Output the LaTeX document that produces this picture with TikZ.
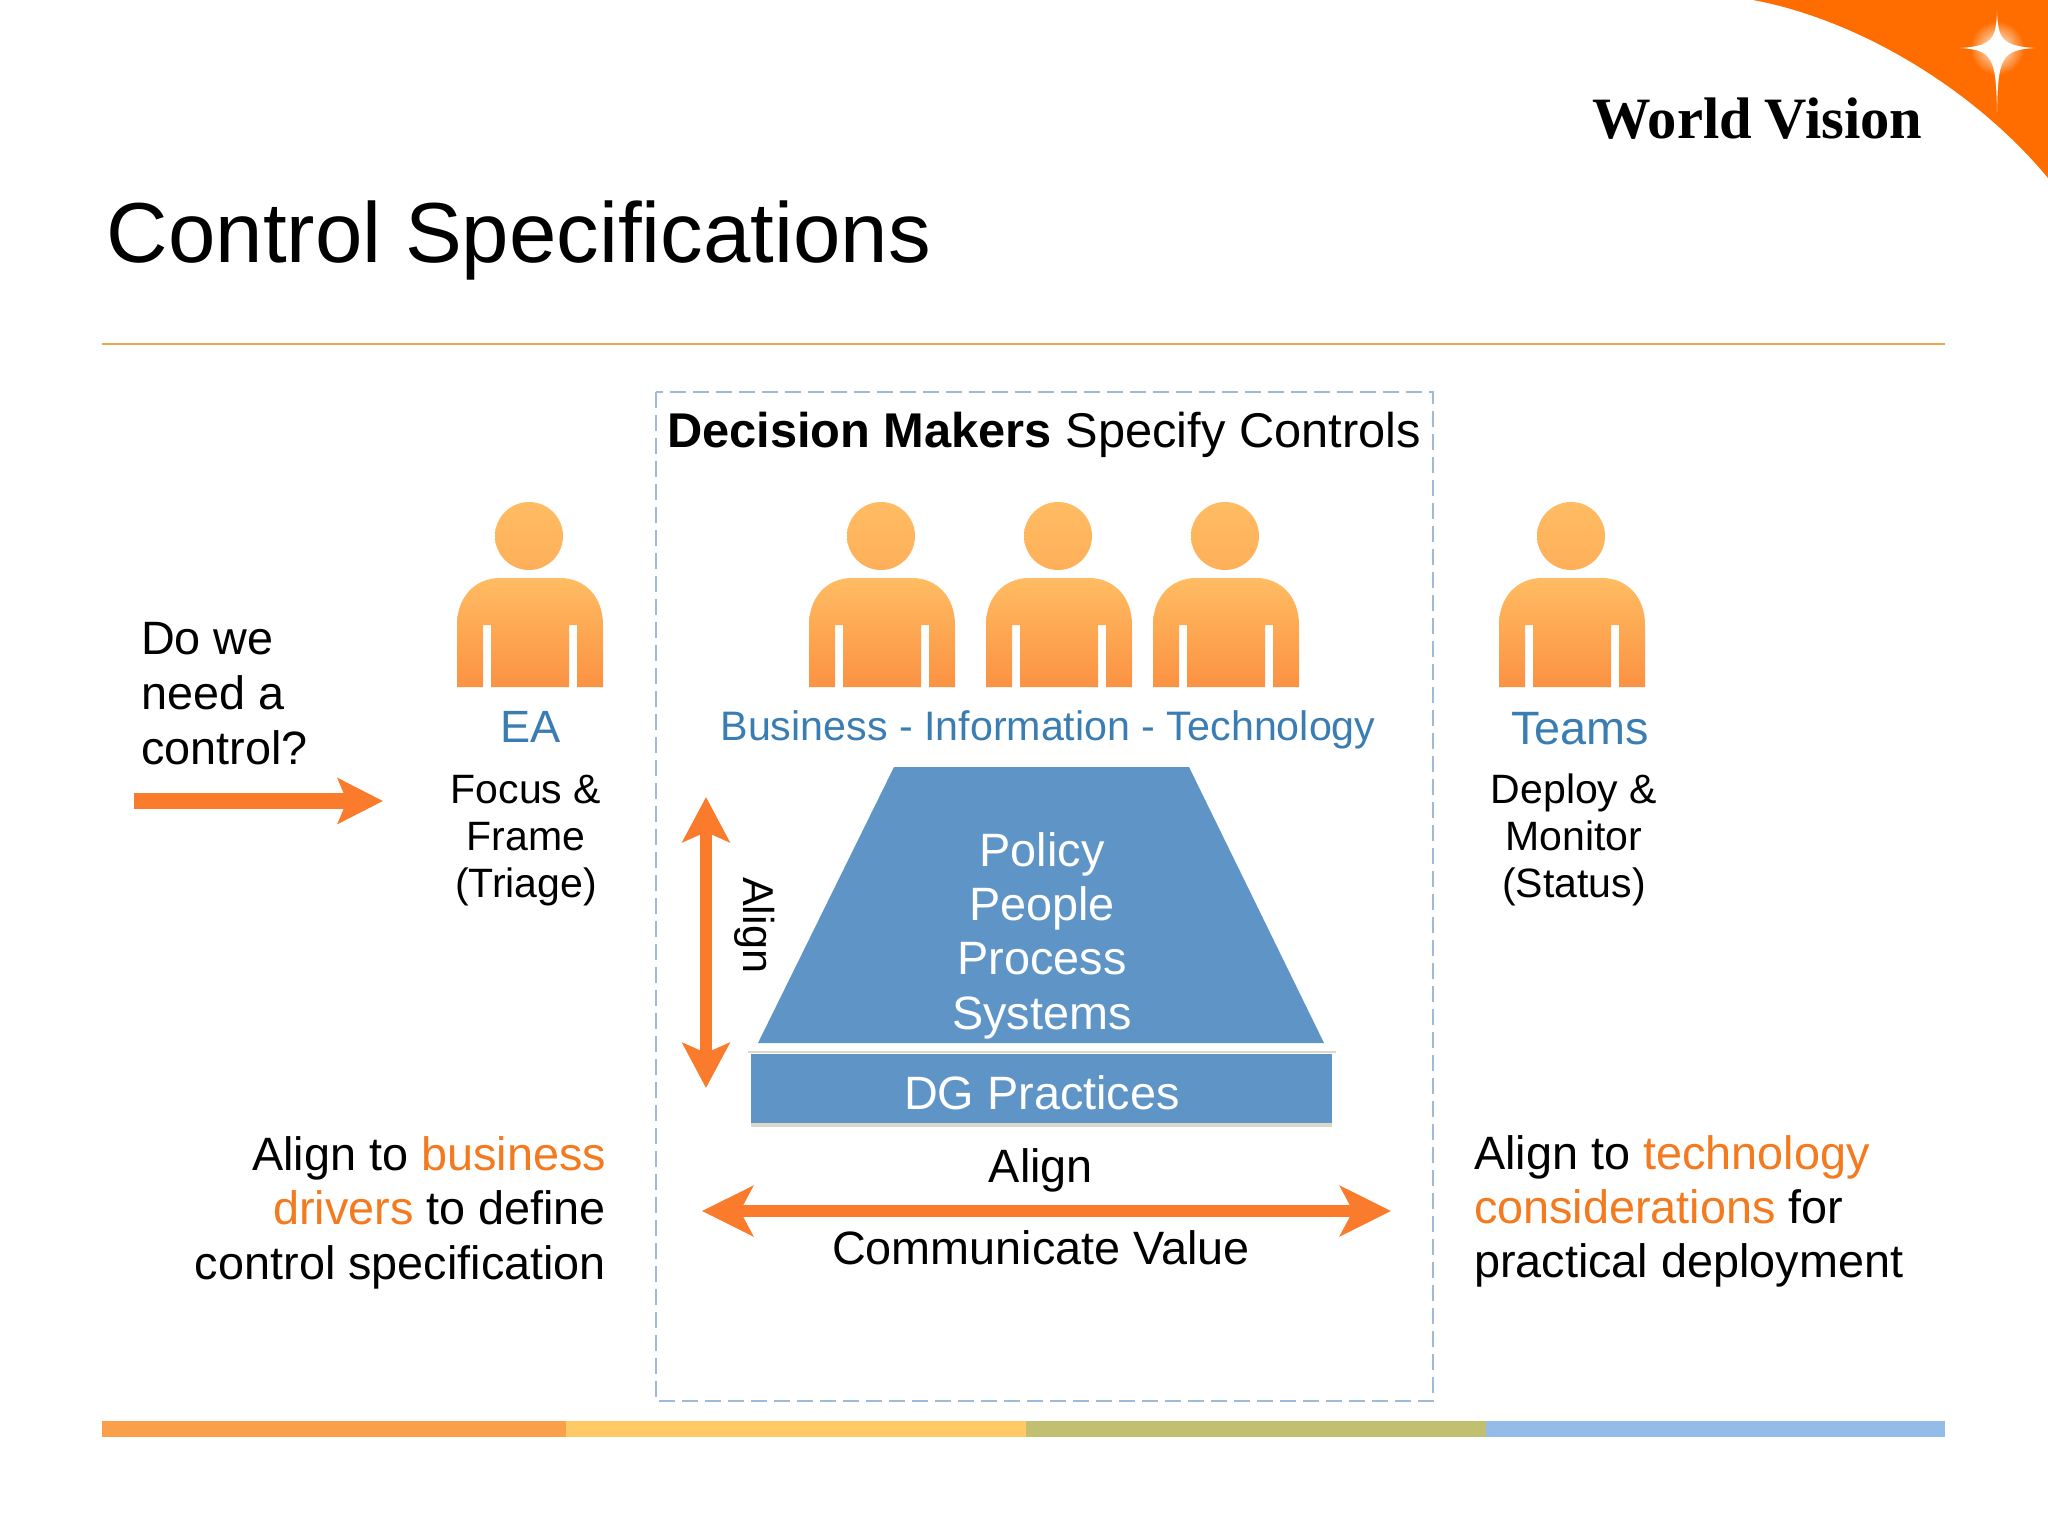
\documentclass[tikz,border=0pt]{standalone}
\usepackage{fontspec}
\usetikzlibrary{arrows.meta}
\setmainfont{Liberation Sans}
\newfontfamily\logofont{Liberation Serif}
\definecolor{swoosh}{HTML}{FF6D00}
\definecolor{rulecol}{HTML}{EDA64B}
\definecolor{arrowcol}{HTML}{FA7B2B}
\definecolor{labelblue}{HTML}{3A7DB3}
\definecolor{boxblue}{HTML}{5F95C6}
\definecolor{dashcol}{HTML}{9DBAD8}
\definecolor{hilite}{HTML}{F47A1F}
\definecolor{persontop}{HTML}{FFBC62}
\definecolor{personbot}{HTML}{FB9243}
\definecolor{edgetan}{HTML}{DDD6CA}
\definecolor{barA}{HTML}{FBA04A}
\definecolor{barB}{HTML}{FFC965}
\definecolor{barC}{HTML}{C0C070}
\definecolor{barD}{HTML}{94BCE8}
\newcommand{\fsz}[2]{\fontsize{#1}{#2}\selectfont}
\newcommand{\blockL}[2]{\vtop{\baselineskip=#1\lineskiplimit=-20pt\halign{##\hfil\cr#2\crcr}}}
\newcommand{\blockR}[2]{\vtop{\baselineskip=#1\lineskiplimit=-20pt\halign{\hfil##\cr#2\crcr}}}
\newcommand{\blockC}[2]{\vtop{\baselineskip=#1\lineskiplimit=-20pt\halign{\hfil##\hfil\cr#2\crcr}}}
\newcommand{\hi}[1]{\textcolor{hilite}{#1}}
\tikzset{
  x=0.5pt,y=-0.5pt,
  txt/.style={inner sep=0pt,outer sep=0pt,font=\fsz{23.4}{27}},
  small/.style={inner sep=0pt,outer sep=0pt,font=\fsz{20.5}{24}},
  whitetxt/.style={txt,text=white},
  bluetxt/.style={inner sep=0pt,outer sep=0pt,text=labelblue},
  flow/.style={draw=arrowcol,fill=arrowcol,line width=6pt},
  vflow/.style={flow,{Stealth[length=22.5pt,width=23.5pt,inset=5pt]}-{Stealth[length=22.5pt,width=23.5pt,inset=5pt]}},
  hflow/.style={flow,{Stealth[length=25.5pt,width=25pt,inset=6.5pt]}-{Stealth[length=25.5pt,width=25pt,inset=6.5pt]}},
  oneflow/.style={flow,line width=8pt,-{Stealth[length=22.5pt,width=22.5pt,inset=4.5pt]}},
  person/.pic={
    \shade[top color=persontop,bottom color=persontop!70!personbot] (0,536) circle[radius=34];
    \shade[top color=persontop,bottom color=personbot]
      (-72,687) -- (-72,625) .. controls (-72,597) and (-54,578) .. (-29,578)
      -- (31,578) .. controls (56,578) and (74,597) .. (74,625) -- (74,687)
      -- (48,687) -- (48,625) -- (40,625) -- (40,687) -- (-38,687) -- (-38,625)
      -- (-46,625) -- (-46,687) -- cycle;
  }
}
\begin{document}
\begin{tikzpicture}
\useasboundingbox (0,0) rectangle (2048,1536);
\fill[white] (0,0) rectangle (2048,1536);
% corner swoosh
\fill[swoosh] (1753,0) .. controls (1860,20) and (1975,90) .. (2048,178) -- (2048,0) -- cycle;
\shade[inner color=white,outer color=swoosh] (1997,48) circle[radius=27];
\fill[white] (1997,11) .. controls (1998,38) and (2001,46) .. (2035,48)
  .. controls (2001,50) and (1998,58) .. (1997,113)
  .. controls (1996,58) and (1993,50) .. (1960,48)
  .. controls (1993,46) and (1996,38) .. cycle;
\node[inner sep=0pt,anchor=base west,font=\fsz{29.3}{32}\logofont\bfseries] (logo) at (1592,139) {World\hspace{6.5pt}Vision};
% title, rule, bar
\node[inner sep=0pt,anchor=base west,font=\fsz{42.6}{48}] (title) at (106.5,262) {Control Specifications};
\draw[rulecol,line width=0.8pt] (102,344) -- (1945,344);
\fill[barA] (102,1421) rectangle (566,1437);
\fill[barB] (566,1421) rectangle (1026,1437);
\fill[barC] (1026,1421) rectangle (1486,1437);
\fill[barD] (1486,1421) rectangle (1945,1437);
% dashed frame
\draw[dashcol,line width=1pt,dash pattern=on 8pt off 3.5pt] (656,392) rectangle (1433,1401);
\node[txt,anchor=base west,font=\fsz{24.4}{28}] (head) at (667,447) {\textbf{Decision Makers} Specify Controls};
% persons
\pic at (529,0) {person};
\pic at (881,0) {person};
\pic at (1058,0) {person};
\pic at (1225,0) {person};
\pic at (1571,0) {person};
% labels
\node[bluetxt,anchor=base,font=\fsz{22.6}{26}] (ea) at (530.5,742) {EA};
\node[bluetxt,anchor=base,font=\fsz{20.6}{24}] (bit) at (1048,740) {Business - Information - Technology};
\node[bluetxt,anchor=base,font=\fsz{23.4}{26}] (teams) at (1580,744) {Teams};
\node[small,anchor=base] (focus) at (526,803) {\blockC{23.7pt}{Focus \&\cr Frame\cr (Triage)}};
\node[small,anchor=base] (deploy) at (1574,803) {\blockC{23.7pt}{Deploy \&\cr Monitor\cr (Status)}};
\node[txt,anchor=base west] (need) at (141,654) {\blockL{27.5pt}{Do we\cr need a\cr control?}};
\node[txt,anchor=base east] (bl) at (606,1170) {\blockR{27.4pt}{Align to \hi{business}\cr \hi{drivers} to define\cr control specification}};
\node[txt,anchor=base west] (br) at (1474,1169) {\blockL{27pt}{Align to \hi{technology}\cr \hi{considerations} for\cr practical deployment}};
% centre stack
\fill[edgetan] (748,1051) rectangle (1336,1053);
\fill[boxblue] (894,767) -- (1189,767) -- (1324,1043) -- (758,1043) -- cycle;
\fill[edgetan] (751,1123) rectangle (1332,1127);
\fill[boxblue] (751,1054) rectangle (1332,1123);
\node[whitetxt,anchor=base] (stack) at (1042,866) {\blockC{27.2pt}{Policy\cr People\cr Process\cr Systems}};
\node[whitetxt,anchor=base] (dg) at (1042,1109) {DG Practices};
% arrows
\coordinate (need end a) at (134,801);
\coordinate (need end b) at (383,801);
\draw[oneflow] (need end a) -- (need end b);
\coordinate (v top) at (706,797);
\coordinate (v bottom) at (706,1088);
\draw[vflow] (v top) -- (v bottom);
\coordinate (h left) at (702,1211);
\coordinate (h right) at (1391,1211);
\draw[hflow] (h left) -- (h right);
\node[txt,font=\fsz{21.6}{26},rotate=-90,anchor=base west] (valign) at (743,877) {Align};
\node[txt,anchor=base] (halign) at (1041,1182) {Align};
\node[txt,anchor=base] (comm) at (1041,1264) {Communicate Value};
\end{tikzpicture}
\end{document}
